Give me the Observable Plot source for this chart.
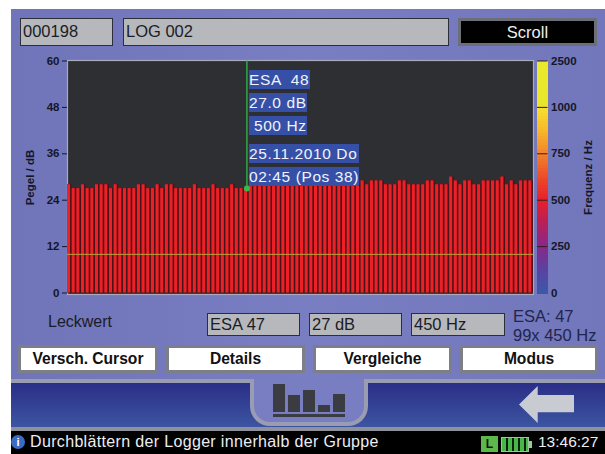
<!DOCTYPE html>
<html>
<head>
<meta charset="utf-8">
<script src="https://cdn.jsdelivr.net/npm/d3@7"></script>
<script src="https://cdn.jsdelivr.net/npm/@observablehq/plot@0.6"></script>
<style>
html,body{margin:0;padding:0;background:#fff;overflow:hidden}
#root{position:relative;width:605px;height:454px;overflow:hidden;font-family:"Liberation Sans",Arial,sans-serif;color:#1a1c26}
#root>*{position:absolute}
.layer{left:0;top:0;width:605px;height:454px}
.panel{left:11px;top:9px;width:594px;height:445px;background:linear-gradient(90deg,#7074b8,#797dc2 50%,#7276ba)}
.box{box-sizing:border-box;background:#b6b8bc;border:1.5px solid #2c2e3a;font-size:16.5px;line-height:25px;padding-left:2px;white-space:pre}
.scroll{box-sizing:border-box;left:458px;top:18px;width:139px;height:28px;background:#000;border:3px solid #6d6f78;color:#eee;font-size:16.5px;line-height:22px;text-align:center}
.btn{box-sizing:border-box;top:345px;height:28px;background:#fff;border:3px solid #7c7e88;font-weight:bold;font-size:15.6px;line-height:22px;text-align:center;color:#111}
.tag{box-sizing:border-box;left:249px;background:#3550a6;color:#f2f3fa;font-size:15.5px;letter-spacing:.6px;line-height:19px;white-space:pre;height:19px}
.nav{left:11px;top:379px;width:594px;height:48px;box-sizing:border-box;border-top:4px solid #9a9db2;background:linear-gradient(180deg,#2a2e86,#3c55a2)}
.tab{box-sizing:border-box;left:250px;top:379px;width:118px;height:47px;background:#797dc2;border:4px solid #9a9db2;border-top:none;border-radius:0 0 20px 20px}
.ic{background:#3a3c42}
.status{left:11px;top:427px;width:594px;height:27px;box-sizing:border-box;border-top:4px solid #8f919c;background:#000}
.st{color:#eceef2;font-size:16px;line-height:20px;white-space:pre}
</style>
</head>
<body>
<div id="root">
  <div class="panel"></div>
  <div class="box" style="left:20px;top:18px;width:93px;height:28px">000198</div>
  <div class="box" style="left:123px;top:18px;width:326px;height:28px">LOG 002</div>
  <div class="scroll">Scroll</div>
  <div id="chart" class="layer"></div>
  <div id="scale" class="layer"></div>
  <div class="tag" style="top:70px;width:61px">ESA  48</div>
  <div class="tag" style="top:93px;width:58px">27.0 dB</div>
  <div class="tag" style="top:116px;width:58px"> 500 Hz</div>
  <div class="tag" style="top:144px;width:110px">25.11.2010 Do</div>
  <div class="tag" style="top:167px;width:110px">02:45 (Pos 38)</div>
  <div style="left:48px;top:313px;font-size:16px;line-height:18px">Leckwert</div>
  <div class="box" style="left:207px;top:313px;width:93px;height:23px;line-height:20px">ESA 47</div>
  <div class="box" style="left:309px;top:313px;width:93px;height:23px;line-height:20px">27 dB</div>
  <div class="box" style="left:411px;top:313px;width:94px;height:23px;line-height:20px">450 Hz</div>
  <div style="left:513px;top:307px;font-size:16.5px;line-height:19px;color:#20264e;white-space:pre">ESA: 47
99x 450 Hz</div>
  <div class="btn" style="left:18px;width:140px">Versch. Cursor</div>
  <div class="btn" style="left:166px;width:139px">Details</div>
  <div class="btn" style="left:313px;width:139px">Vergleiche</div>
  <div class="btn" style="left:460px;width:138px">Modus</div>
  <div class="nav"></div>
  <div class="tab"></div>
  <div class="ic" style="left:273px;top:384px;width:12px;height:28px"></div>
  <div class="ic" style="left:288px;top:395px;width:12px;height:17px"></div>
  <div class="ic" style="left:303px;top:390px;width:12px;height:22px"></div>
  <div class="ic" style="left:318px;top:405px;width:12px;height:7px"></div>
  <div class="ic" style="left:333px;top:394px;width:12px;height:18px"></div>
  <div class="ic" style="left:273px;top:414px;width:72px;height:3px"></div>
  <div style="left:519px;top:386px;width:55px;height:37px;background:#c9cbd2;clip-path:polygon(0 50%,34% 0,34% 24%,100% 24%,100% 71%,34% 71%,34% 100%)"></div>
  <div class="status"></div>
  <div style="left:11px;top:435px;width:14px;height:14px;border-radius:50%;background:#3a6cc4;color:#fff;font-size:11px;font-weight:bold;line-height:14px;text-align:center">i</div>
  <div class="st" style="left:30px;top:432px;letter-spacing:.34px">Durchblättern der Logger innerhalb der Gruppe</div>
  <div style="left:481px;top:436px;width:17px;height:16px;background:#5cb848;color:#111;font-size:12px;font-weight:bold;line-height:16px;text-align:center">L</div>
  <div style="left:501px;top:437px;width:28px;height:15px;box-sizing:border-box;border:1.5px solid #9cc79a;background:repeating-linear-gradient(90deg,#48b648 0 4px,#0c200c 4px 6px)"></div>
  <div style="left:529px;top:441px;width:3px;height:7px;background:#9cc79a"></div>
  <div class="st" style="left:538px;top:432px;font-size:15.5px">13:46:27</div>
</div>
<script>
// Pegel (dB) per logger position 0..99
const pegel = [28,27,27,28,27,27,28,28,28,27,28,27,27,27,27,28,28,27,27,28,
               27,28,28,27,27,27,27,28,27,27,27,28,27,27,27,28,27,27,27,28,
               28,28,28,28,28,28,28,28,28,28,28,28,28,28,28,28,28,28,28,28,
               28,28,28,29,28,29,29,29,28,28,28,29,29,28,28,28,28,29,29,28,
               28,28,30,29,28,29,29,28,28,29,29,29,29,30,28,29,28,29,29,29];
const positions = pegel.map((_, i) => i);
const pegelTicks = [0, 12, 24, 36, 48, 60];
const cursorPos = [38];
const cursorPegel = [27];
const leckPegel = [10];
// colour legend: equally spaced frequency classes
const freqTicks = [0, 250, 500, 750, 1000, 2500];
const freqSteps = freqTicks.map((_, i) => i);
const colorSteps = [0, 0.5, 1, 1.5, 2, 2.5, 3, 3.5, 4, 4.01, 5];
const colorStops = ["#3c58aa","#5a42a0","#88288a","#b82058","#e8202a","#ee4c28","#f2842a","#f8b82a","#f6e22e","#e8e62c","#eaea2a"];

const rows = positions.map(i => ({i, v: pegel[i]}));
const textStyle = {background:"transparent", maxWidth:"none", fontFamily:'"Liberation Sans",Arial,sans-serif', fontSize:"11.5px", fontWeight:"bold", color:"#14162a", overflow:"visible"};

const chart = Plot.plot({
  width:605, height:454, marginTop:60, marginBottom:160, marginLeft:67, marginRight:72,
  style:textStyle,
  x:{type:"band", domain:positions, range:[67,533], padding:0, round:false, axis:null},
  y:{domain:[0,60], range:[292.5,60.5]},
  marks:[
    Plot.frame({fill:"#2d2f32", stroke:"#a9abba", strokeWidth:1.2}),
    Plot.barY(rows, {x:"i", y:"v", fill:"#4a1317"}),
    Plot.barY(rows, {x:"i", y:"v", fill:"#ee2027", insetRight:1.6}),
    Plot.ruleY(leckPegel, {stroke:"#b3a63c", strokeWidth:1}),
    Plot.ruleX(cursorPos, {x:d=>d, y1:27, y2:60, stroke:"#2fa84a", strokeWidth:1.5}),
    Plot.dot(cursorPos, {x:d=>d, y:()=>cursorPegel[0], r:3, fill:"#35bb4c"}),
    Plot.axisY({ticks:pegelTicks, tickSize:5, tickPadding:3, label:"Pegel / dB", labelAnchor:"center", labelArrow:"none", labelOffset:42})
  ]
});
document.getElementById("chart").appendChild(chart);

// colour scale bar
const stepColor = d3.scaleLinear(colorSteps, colorStops);
const cells = [];
d3.pairs(colorSteps).forEach(([a,b]) => {
  d3.range(0,8).forEach(k => cells.push({y1:a+(b-a)*k/8, y2:a+(b-a)*(k+1)/8}));
});
cells.unshift({y1:-0.035, y2:0});
const scale = Plot.plot({
  width:605, height:454, marginTop:60, marginBottom:160, marginLeft:537, marginRight:57.5,
  style:textStyle,
  x:{domain:[0,1], range:[537,547.5], axis:null},
  y:{domain:[0,5], range:[292.5,60.5]},
  marks:[
    Plot.rect(cells, {x1:()=>0, x2:()=>1, y1:"y1", y2:"y2", fill:d=>stepColor(Math.max(0,(d.y1+d.y2)/2)), shapeRendering:"crispEdges"}),
    Plot.ruleY(freqSteps.slice(1), {x1:()=>0, x2:()=>1, stroke:"#3a1a20", strokeWidth:1}),
    Plot.axisY({anchor:"right", ticks:freqSteps, tickSize:0, tickPadding:3, label:"Frequenz / Hz", labelAnchor:"center", labelArrow:"none", labelOffset:43.5, tickFormat:i=>String(freqTicks[i])})
  ]
});
document.getElementById("scale").appendChild(scale);
</script>
</body>
</html>
